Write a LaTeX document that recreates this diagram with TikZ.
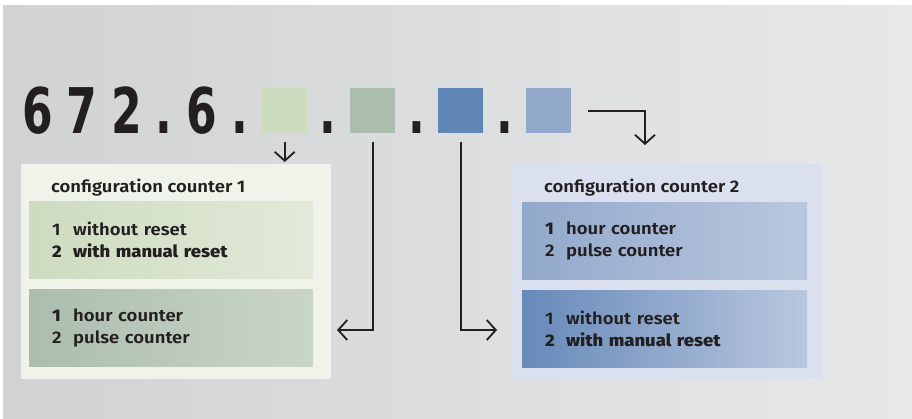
\documentclass[tikz,border=0pt]{standalone}
\usepackage{fontspec}
\setmainfont{Fira Sans}[UprightFont=* SemiBold, BoldFont=* ExtraBold, FakeStretch=1.1]
\newfontfamily\numfont{DejaVu Sans}[FakeStretch=0.7]
\usetikzlibrary{arrows.meta, positioning, calc}
\definecolor{ink}{HTML}{231F20}
\definecolor{bgL}{HTML}{D1D2D4}
\definecolor{bgR}{HTML}{E7E8EA}
\definecolor{cfgAfill}{HTML}{F0F3EA}
\definecolor{cfgBfill}{HTML}{DAE0EE}
\definecolor{sqAfill}{HTML}{CDDBBF}
\definecolor{sqBfill}{HTML}{ABBDAF}
\definecolor{sqCfill}{HTML}{5F84B6}
\definecolor{sqDfill}{HTML}{92A9CB}
\newcommand{\optline}[2]{\makebox[21pt][l]{#1}#2}

\begin{document}
\begin{tikzpicture}[x=1pt, y=-1pt,
    cfgbox/.style={anchor=north west, inner sep=0pt, minimum width=310pt, minimum height=215pt},
    optbox/.style={anchor=north west, inner xsep=23pt, inner ysep=0pt, text width=238pt,
        minimum height=77pt, align=left, text=ink, font=\fontsize{16.8}{22}\selectfont},
    cfgtitle/.style={anchor=base west, inner sep=0pt, text=ink, font=\fontsize{16.8}{19}\selectfont},
    digitbox/.style={anchor=north west, inner sep=0pt, minimum size=45pt},
    dotmark/.style={anchor=base, inner sep=0pt, text=ink, font=\numfont\bfseries\fontsize{63}{63}\selectfont},
    pointer/.style={draw=ink, line width=1.8pt, -{Straight Barb[length=9pt, width=20pt]}}
]
    \useasboundingbox (0,0) rectangle (912,418);
    \fill[left color=bgL, right color=bgR] (3,5) rectangle (912,418);

    % Type code
    \node[anchor=base west, inner sep=0pt, text=ink,
        font=\numfont\bfseries\fontsize{63}{63}\selectfont\addfontfeature{LetterSpace=22}] (code) at (22,133) {672.6.};

    % Option squares
    \node[digitbox, fill=sqAfill] (sqA) at (262,88) {};
    \node[digitbox, fill=sqBfill] (sqB) at (350,88) {};
    \node[digitbox, fill=sqCfill] (sqC) at (438,88) {};
    \node[digitbox, fill=sqDfill] (sqD) at (526,88) {};
    \node[dotmark] (dotA) at (328,133) {.};
    \node[dotmark] (dotB) at (417,133) {.};
    \node[dotmark] (dotC) at (505,133) {.};

    % Configuration counter 1
    \node[cfgbox, fill=cfgAfill] (cfgA) at (21,164) {};
    \node[cfgtitle] (ttlA) at (51,192) {configuration counter 1};
    \node[optbox, left color=sqAfill, right color=cfgAfill!60!sqAfill] (optA1) at (29,201)
        {\optline{1}{without reset}\\ \textbf{\optline{2}{with manual reset}}};
    \node[optbox, left color=sqBfill, right color=cfgAfill!45!sqBfill] (optA2) at (29,289)
        {\textbf{\optline{1}{}}hour counter\\ \optline{2}{pulse counter}};

    % Configuration counter 2
    \node[cfgbox, fill=cfgBfill] (cfgB) at (512,164) {};
    \node[cfgtitle] (ttlB) at (544,192) {configuration counter 2};
    \node[optbox, text width=239pt, left color=sqDfill, right color=cfgBfill!55!sqDfill] (optB1) at (522,202)
        {\textbf{\optline{1}{}}hour counter\\ \optline{2}{pulse counter}};
    \node[optbox, text width=239pt, left color=sqCfill!85!sqDfill, right color=cfgBfill!55!sqDfill] (optB2) at (522,290)
        {\optline{1}{without reset}\\ \textbf{\optline{2}{with manual reset}}};

    % Connectors
    \coordinate (tipA) at ($(sqA.south |- cfgA.north)+(0,-2)$);
    \coordinate (tipB) at (337,330);
    \coordinate (tipC) at (497,330);
    \coordinate (tipD) at (645,145);
    \draw[pointer] ([yshift=-9pt]sqA.south) -- (tipA);
    \draw[pointer] ([yshift=-9pt]sqB.south) |- (tipB);
    \draw[pointer] ([yshift=-9pt]sqC.south) |- (tipC);
    \draw[pointer] ([xshift=17pt]sqD.east) -| (tipD);
\end{tikzpicture}
\end{document}
